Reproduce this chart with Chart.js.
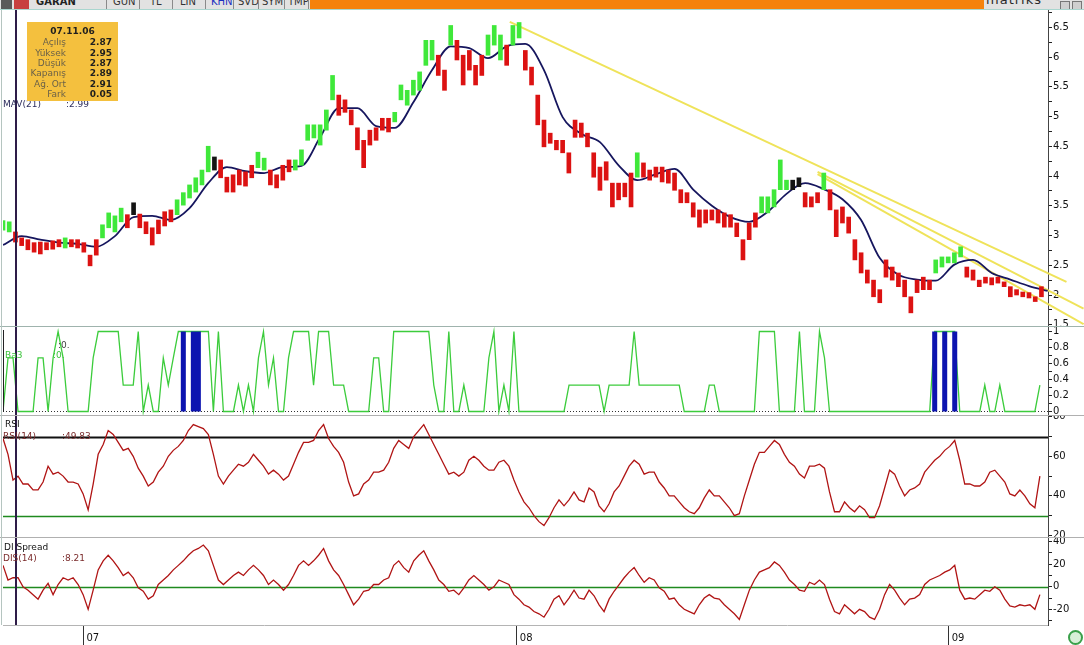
<!DOCTYPE html>
<html>
<head>
<meta charset="utf-8">
<title>GARAN</title>
<script src="https://cdn.jsdelivr.net/npm/chart.js@4.4.1/dist/chart.umd.min.js"></script>
<style>
  body { margin:0; width:1084px; height:645px; overflow:hidden; background:#fff; position:relative; font-family:"DejaVu Sans", Verdana, sans-serif; }
  .pane { position:absolute; left:0; }
  .lbl { position:absolute; font-size:9px; line-height:10px; white-space:nowrap; }
  .sep { position:absolute; left:0; width:1084px; height:1px; }
  #tb { position:absolute; left:0; top:0; width:1084px; height:9px; overflow:hidden; background:#e2e2e2; }
  #tb span { position:absolute; top:-4px; font-size:10px; line-height:12px; color:#333; }
  #tb .vs { position:absolute; top:0; width:1px; height:9px; background:#8a8a8a; }
  #orange { position:absolute; left:310px; top:0; width:674px; height:9px; background:#f5820c; }
  #tip { position:absolute; left:27px; top:22px; width:91px; height:79px; background:#f4c03e; }
  #tip span { position:absolute; font-size:9px; line-height:10px; white-space:nowrap; }
  #tip .k { right:52px; color:#6b6148; }
  #tip .v { right:6px; color:#1e1e1e; font-weight:bold; }
</style>
</head>
<body>

<div id="tb">
  <div style="position:absolute;left:1px;top:0;width:11px;height:9px;background:#5a5a5a"></div>
  <div style="position:absolute;left:14px;top:0;width:15px;height:9px;background:#c84040"></div>
  <span style="left:36px;font-weight:bold;color:#222">GARAN</span>
  <div class="vs" style="left:106px"></div>
  <span style="left:113px">GUN</span>
  <div class="vs" style="left:139px"></div>
  <span style="left:150px">TL</span>
  <div class="vs" style="left:172px"></div>
  <span style="left:180px">LIN</span>
  <div class="vs" style="left:205px"></div>
  <span style="left:211px;color:#1c2fc0">KHN</span>
  <div class="vs" style="left:233px"></div>
  <span style="left:238px">SVD</span>
  <div class="vs" style="left:258px"></div>
  <span style="left:262px">SYM</span>
  <div class="vs" style="left:284px"></div>
  <span style="left:288px">TMP</span>
  <div class="vs" style="left:308px"></div>
  <div id="orange"></div>
  <span style="left:986px;font-size:13px;top:-6px;color:#2a2a2a;letter-spacing:1px">matriks</span>
  <div style="position:absolute;left:1060px;top:1px;width:8px;height:7px;background:#cfcfcf;border:1px solid #777"></div>
  <div style="position:absolute;left:1072px;top:1px;width:8px;height:7px;background:#cfcfcf;border:1px solid #777"></div>
</div>
<div class="sep" style="top:9px;background:#a9d6cf"></div>

<div class="pane" style="top:10px"><canvas id="cPrice" width="1084" height="316"></canvas></div>
<div class="pane" style="top:326px"><canvas id="cBa3" width="1084" height="89"></canvas></div>
<div class="pane" style="top:415px"><canvas id="cRsi" width="1084" height="122"></canvas></div>
<div class="pane" style="top:537px"><canvas id="cDis" width="1084" height="108"></canvas></div>

<div class="sep" style="top:326px;background:#9fb3ad"></div>
<div class="sep" style="top:415px;background:#b0b0b0"></div>
<div class="sep" style="top:537px;background:#b0b0b0"></div>
<div style="position:absolute;left:1px;top:10px;width:1px;height:615px;background:#b5c5c0"></div>
<div style="position:absolute;left:3px;top:330px;width:1px;height:82px;background:#222"></div>

<div class="lbl" style="left:3px;top:99px;color:#2c2c5c">MAV(21)</div>
<div class="lbl" style="left:66px;top:99px;color:#2c2c5c">:2.99</div>

<div id="tip">
  <span style="left:0;width:91px;text-align:center;top:4px;font-weight:bold;color:#1e1e1e">07.11.06</span>
  <span class="k" style="top:15px">Açılış</span><span class="v" style="top:15px">2.87</span>
  <span class="k" style="top:25.5px">Yüksek</span><span class="v" style="top:25.5px">2.95</span>
  <span class="k" style="top:36px">Düşük</span><span class="v" style="top:36px">2.87</span>
  <span class="k" style="top:46px">Kapanış</span><span class="v" style="top:46px">2.89</span>
  <span class="k" style="top:56.5px">Ağ. Ort</span><span class="v" style="top:56.5px">2.91</span>
  <span class="k" style="top:67px">Fark</span><span class="v" style="top:67px">0.05</span>
</div>

<div class="lbl" style="left:5px;top:350px;color:#3cc43c">Ba3</div>
<div class="lbl" style="left:58px;top:340px;color:#444">:0.</div>
<div class="lbl" style="left:53px;top:350px;color:#3cc43c">:0.</div>

<div class="lbl" style="left:5px;top:419px;color:#111">RSI</div>
<div class="lbl" style="left:3px;top:431px;color:#7a2a2a">RSI(14)</div>
<div class="lbl" style="left:62px;top:431px;color:#7a2a2a">:49.83</div>

<div class="lbl" style="left:4px;top:542px;color:#111">DI Spread</div>
<div class="lbl" style="left:3px;top:553px;color:#7a2a2a">DIS(14)</div>
<div class="lbl" style="left:62px;top:553px;color:#7a2a2a">:8.21</div>

<div style="position:absolute;left:1068px;top:630px;width:11px;height:11px;border-radius:50%;border:2px solid #3aa04a;background:#d8f0d8"></div>

<script>
// time axis in trading sessions (250 per year)
const YEAR_LABELS = ['07', '08', '09'];
const YEAR_T = [46.6, 297.5, 547.5];
const CURSOR_T = 7.5;

// price bars, one every 3.6 sessions
const PRICE_DT = 3.6;
const PRICE_LO = [3.09,3.06,2.89,2.83,2.76,2.72,2.69,2.76,2.77,2.81,
  2.79,2.81,2.79,2.72,2.49,2.67,2.96,3.13,3.06,3.23,
  3.13,3.35,3.13,3.03,2.84,3.03,3.16,3.23,3.35,3.51,
  3.63,3.73,3.85,4.07,4.10,3.97,3.73,3.73,3.85,3.83,
  3.97,4.14,4.10,3.85,3.80,3.93,4.07,4.10,4.18,4.60,
  4.64,4.52,4.77,5.28,5.02,5.07,4.86,4.44,4.14,4.52,
  4.60,4.77,4.74,4.91,5.28,5.19,5.36,5.44,5.86,5.95,
  5.69,5.44,6.20,5.95,5.53,5.78,5.53,5.69,6.03,6.20,
  5.95,5.86,6.20,6.32,5.78,5.53,4.86,4.49,4.55,4.44,
  4.39,4.05,4.65,4.65,4.49,3.98,3.76,3.93,3.48,3.60,
  3.65,3.48,3.98,3.98,3.93,3.98,3.90,3.88,3.76,3.55,
  3.55,3.31,3.14,3.21,3.26,3.21,3.14,3.14,2.98,2.59,
  2.93,3.14,3.38,3.38,3.48,3.77,3.77,3.77,3.82,3.48,
  3.48,3.55,3.77,3.43,2.98,3.21,3.04,2.59,2.37,2.20,
  1.97,1.87,2.30,2.25,2.14,1.97,1.70,2.04,2.09,2.09,
  2.37,2.47,2.54,2.54,2.64,2.30,2.25,2.14,2.20,2.17,
  2.20,2.14,1.97,2.00,1.97,1.95,1.89,1.97];
const PRICE_HI = [3.25,3.23,3.06,2.96,2.93,2.88,2.89,2.88,2.91,2.93,
  2.96,2.93,2.93,2.88,2.67,2.93,3.18,3.38,3.33,3.46,
  3.35,3.55,3.36,3.23,3.13,3.26,3.40,3.43,3.60,3.72,
  3.85,3.97,4.10,4.50,4.32,4.27,3.98,4.02,4.10,4.07,
  4.18,4.40,4.30,4.10,4.02,4.18,4.27,4.27,4.44,4.86,
  4.86,4.86,5.11,5.69,5.36,5.28,5.11,4.81,4.60,4.77,
  4.81,4.97,4.97,5.07,5.53,5.44,5.61,5.75,6.28,6.28,
  6.03,5.78,6.53,6.28,6.03,6.11,5.86,6.03,6.37,6.53,
  6.37,6.20,6.53,6.58,6.11,5.83,5.36,4.94,4.72,4.60,
  4.60,4.39,4.94,4.89,4.72,4.39,4.15,4.24,3.88,3.88,
  3.88,4.05,4.39,4.22,4.10,4.15,4.15,4.10,4.05,3.77,
  3.72,3.55,3.43,3.43,3.43,3.43,3.38,3.35,3.21,2.93,
  3.21,3.38,3.65,3.65,3.77,4.27,3.93,3.93,3.97,3.72,
  3.65,3.72,4.05,3.77,3.43,3.48,3.31,2.93,2.71,2.42,
  2.25,2.09,2.59,2.47,2.37,2.25,1.97,2.25,2.30,2.25,
  2.59,2.64,2.64,2.71,2.81,2.47,2.42,2.25,2.30,2.29,
  2.30,2.22,2.14,2.09,2.05,2.04,1.97,2.14];
// G = up (green), R = down (red), K = neutral (black)
const PRICE_CLR = 'GGRRRRRRRR' + 'GRRRRRGGGG' + 'RKRRRRRRGG' + 'GGGGKRRRRR' +
  'RGGRRRRGGG' + 'GGGGRRRRRR' + 'RRRGGGGGGG' + 'RRGRRRRRGG' + 'GRGGRRRRRR' +
  'RRRRRRRRRR' + 'RRGRRRRRRR' + 'RRRRRRRRRR' + 'RRGGGGGKKR' + 'RRGRRRRRRR' +
  'RRRRRRRRRR' + 'GGGGGRRRRR' + 'RRRRRRRR';

// 21-period moving average, read every 10.8 sessions
const MAV_DT = 10.8;
const MAV = [2.84,2.99,2.93,2.88,2.86,2.81,2.99,3.31,3.33,3.26,
  3.46,3.88,4.15,4.08,4.05,4.15,4.17,4.65,5.14,5.14,
  4.84,4.81,5.24,5.78,6.18,6.15,5.98,6.18,6.22,5.78,
  4.99,4.71,4.57,4.18,3.93,4.03,4.12,3.77,3.50,3.31,
  3.23,3.40,3.70,3.88,3.78,3.61,3.26,2.62,2.34,2.26,
  2.24,2.51,2.59,2.37,2.26,2.15,2.07];

// drawn trend lines: [start, end] in sessions and price
const TREND_T = [[293.4, 615.7], [471.6, 625.6], [471.6, 625.6]];
const TREND_P = [[6.59, 2.22], [4.07, 1.77], [4.03, 1.51]];

// oscillators, read every 2.9 sessions
const OSC_DT = 2.9;
const BA3 = [0,0.67,0.67,0,0,0,0,0.67,0.67,0,
  0.67,1,0.67,0,0,0,0,0,0.67,1,
  1,1,1,1,0.33,0.33,0.33,1,0,0.33,
  0,0,0.67,0.33,0.67,1,1,1,1,1,
  1,1,0,1,0,0,0,0.33,0,0.33,
  0,0.67,1,0.33,0.67,0,0,0.67,1,1,
  1,1,0.33,1,1,1,0.33,0.33,0.33,0,
  0,0,0,0,0.67,0.67,0,0,1,1,
  1,1,1,1,1,1,0.33,0,0,1,
  0,0,0.33,0,0,0,0,0.67,1,0,
  0.33,0,1,0,0,0,0,0,0,0,
  0,0,0,0.33,0.33,0.33,0.33,0.33,0.33,0.33,
  0,0.33,0.33,0.33,0.33,0.33,1,0.33,0.33,0.33,
  0.33,0.33,0.33,0.33,0.33,0.33,0,0,0,0,
  0,0.33,0.33,0,0,0,0,0,0,0,
  0,1,1,1,1,0,0,0,0,1,
  0,0,0,1,0.67,0,0,0,0,0,
  0,0,0,0,0,0,0,0,0,0,
  0,0,0,0,0,0,1,1,1,1,
  1,0,0,0,0,0,0.33,0,0,0.33,
  0,0,0,0,0,0,0,0.33];
const BA3_BLUE_ON = [36, 38, 39, 186, 188, 190];

const RSI = [69,61,48,50,46,46,43,43,47,55,
  51,52,50,47,47,46,41,33,46,61,
  66,73,71,67,63,64,60,54,50,45,
  47,52,55,60,63,65,68,73,76,75,
  74,71,61,50,46,50,53,56,55,57,
  61,58,55,51,53,51,48,50,56,62,
  67,67,68,73,76,69,65,62,57,47,
  40,41,46,48,52,52,53,57,64,68,
  66,64,70,73,76,71,66,61,56,51,
  52,50,52,58,60,58,55,53,53,57,
  58,55,48,42,37,34,30,27,25,29,
  34,38,35,38,42,38,37,44,42,35,
  32,36,42,45,50,55,58,56,51,52,
  52,47,44,40,40,37,34,32,31,34,
  39,43,40,40,37,34,30,31,40,48,
  56,62,62,65,68,66,61,57,55,51,
  49,55,55,56,54,42,32,32,37,34,
  32,35,33,29,29,35,44,53,51,45,
  40,43,44,46,52,55,58,60,63,65,
  68,58,46,46,45,45,47,52,53,50,
  47,41,40,43,40,36,34,50];
const RSI_LEVELS = [70, 30];

const DIS = [19,6,8,8,0,-3,-7,-11,-3,3,
  -7,2,8,6,8,2,-7,-20,-3,15,
  23,28,23,17,10,13,8,-1,-4,-11,
  -8,2,6,10,15,19,23,28,32,34,
  37,32,19,6,2,6,10,13,10,15,
  19,15,10,2,6,2,-3,2,10,19,
  23,19,23,28,34,23,15,10,2,-7,
  -16,-11,-4,-3,2,2,6,8,19,23,
  17,13,23,28,32,23,15,6,2,-4,
  -3,-7,-1,6,10,6,2,-3,0,6,
  4,2,-7,-11,-16,-18,-22,-24,-27,-20,
  -11,-8,-16,-10,-3,-10,-11,-3,-8,-16,
  -22,-11,-4,2,8,13,17,10,4,8,
  6,-1,-4,-11,-10,-16,-20,-22,-24,-16,
  -10,-7,-10,-11,-16,-20,-24,-29,-16,-3,
  6,13,15,17,22,19,13,6,2,-3,
  -4,4,2,6,2,-11,-22,-24,-16,-20,
  -24,-20,-22,-27,-29,-20,-7,2,-3,-10,
  -16,-11,-10,-7,2,6,8,10,13,15,
  19,-3,-11,-10,-11,-7,-3,-4,0,-3,
  -11,-17,-18,-16,-17,-16,-20,-7];
const DIS_LEVELS = [0];

const PRICE_TICKS = ['1.5','2','2.5','3','3.5','4','4.5','5','5.5','6','6.5'];
const BA3_TICKS = ['0','0.2','0.4','0.6','0.8','1'];
const RSI_TICKS = ['20','40','60','80'];
const DIS_TICKS = ['-20','0','20','40'];

// ---------------------------------------------------------------
const X_MAX = 605;
const FONT = { family: 'DejaVu Sans', size: 10 };
const CLR = { G: '#3fe83a', R: '#dc1212', K: '#141414' };

function series(values, dt) {
  return values.map((v, i) => ({ x: +(i * dt).toFixed(2), y: v }));
}

function tickValues(labels, lo, hi) {
  const maj = labels.map(Number);
  const half = (maj[1] - maj[0]) / 2;
  const out = [];
  for (let v = maj[0] - half; v <= maj[maj.length - 1] + half + 1e-9; v += half) {
    const r = +v.toFixed(4);
    if (r >= lo && r <= hi) out.push(r);
  }
  return out;
}

function yAxis(lo, hi, labels) {
  const names = {};
  labels.forEach(l => { names[Number(l)] = l; });
  const vals = tickValues(labels, lo, hi);
  return {
    position: 'right', min: lo, max: hi,
    afterFit: s => { s.width = 36; s.paddingTop = 0; s.paddingBottom = 0; },
    afterBuildTicks: s => { s.ticks = vals.map(v => ({ value: v })); },
    ticks: { autoSkip: false, padding: 1, color: '#111', font: FONT,
             callback: v => (names[v] !== undefined ? names[v] : '') },
    grid: { drawOnChartArea: false, tickLength: 4, tickColor: '#222' },
    border: { display: true, color: '#444' }
  };
}

function xAxis(show) {
  const ax = { type: 'linear', min: 0, max: X_MAX, offset: false, display: show };
  if (show) {
    Object.assign(ax, {
      afterFit: s => { s.height = 20; s.paddingLeft = 0; s.paddingRight = 0; },
      afterBuildTicks: s => { s.ticks = YEAR_T.map(v => ({ value: v })); },
      ticks: { autoSkip: false, align: 'start', labelOffset: 3, padding: -13, maxRotation: 0,
               color: '#111', font: FONT, callback: (v, i) => YEAR_LABELS[i] },
      grid: { drawOnChartArea: false, tickLength: 20, tickColor: '#333' },
      border: { display: true, color: '#b4b4b4' }
    });
  }
  return ax;
}

const paneDeco = {
  id: 'paneDeco',
  beforeDatasetsDraw(chart, args, opts) {
    const { ctx, chartArea: a, scales: { y } } = chart;
    (opts.levels || []).forEach(l => {
      const py = Math.round(y.getPixelForValue(l.value)) + 0.5;
      ctx.save();
      ctx.strokeStyle = l.color;
      ctx.lineWidth = l.width;
      if (l.dash) ctx.setLineDash(l.dash);
      ctx.beginPath(); ctx.moveTo(a.left, py); ctx.lineTo(a.right, py); ctx.stroke();
      ctx.restore();
    });
  },
  afterDatasetsDraw(chart) {
    const { ctx, chartArea: a, scales: { x } } = chart;
    const px = Math.round(x.getPixelForValue(CURSOR_T));
    ctx.save();
    ctx.strokeStyle = '#2e1c48';
    ctx.lineWidth = 2;
    ctx.beginPath(); ctx.moveTo(px, a.top); ctx.lineTo(px, a.bottom); ctx.stroke();
    ctx.restore();
  }
};

function baseOptions(yScale, levels, showX) {
  return {
    responsive: false, animation: false, events: [],
    layout: { padding: { left: 3, right: 0, top: 0, bottom: 0 } },
    plugins: { legend: { display: false }, tooltip: { enabled: false }, paneDeco: { levels: levels } },
    scales: { x: xAxis(showX), y: yScale }
  };
}

// price pane
const priceBars = PRICE_LO.map((lo, i) => ({ x: +(i * PRICE_DT).toFixed(2), y: [lo, PRICE_HI[i]] }));
const trendSets = TREND_T.map((ts, n) => ({
  type: 'line',
  data: ts.map((t, k) => ({ x: t, y: TREND_P[n][k] })),
  borderColor: '#efe35a', borderWidth: 2, pointRadius: 0, clip: false
}));

new Chart(document.getElementById('cPrice'), {
  type: 'bar',
  data: {
    datasets: [
      { type: 'bar', data: priceBars, barThickness: 4,
        backgroundColor: PRICE_CLR.split('').map(c => CLR[c]) },
      { type: 'line', data: series(MAV, MAV_DT), borderColor: '#16165e', borderWidth: 1.8,
        pointRadius: 0, cubicInterpolationMode: 'monotone' }
    ].concat(trendSets)
  },
  options: baseOptions(yAxis(1.479, 6.79, PRICE_TICKS), [], false),
  plugins: [paneDeco]
});

// Ba3 pane
const blue = BA3.map((v, k) => ({ x: +(k * OSC_DT).toFixed(2), y: BA3_BLUE_ON.includes(k) ? 1 : 0 }));
new Chart(document.getElementById('cBa3'), {
  type: 'line',
  data: {
    datasets: [
      { data: blue, stepped: 'middle', fill: 'origin', backgroundColor: '#0c14b0',
        borderWidth: 0, pointRadius: 0 },
      { data: series(BA3, OSC_DT), borderColor: '#3ccc3c', borderWidth: 1.3, pointRadius: 0 }
    ]
  },
  options: baseOptions(yAxis(-0.044, 1.069, BA3_TICKS),
    [{ value: 0, color: '#333', width: 1, dash: [1, 2] }], false),
  plugins: [paneDeco]
});

// RSI pane
new Chart(document.getElementById('cRsi'), {
  type: 'line',
  data: { datasets: [
    { data: series(RSI, OSC_DT), borderColor: '#b01414', borderWidth: 1.3, pointRadius: 0 }
  ] },
  options: baseOptions(yAxis(19.24, 80.86, RSI_TICKS),
    [{ value: RSI_LEVELS[0], color: '#111', width: 2 },
     { value: RSI_LEVELS[1], color: '#1f8a1f', width: 1.6 }], false),
  plugins: [paneDeco]
});

// DI spread pane with the time axis
new Chart(document.getElementById('cDis'), {
  type: 'line',
  data: { datasets: [
    { data: series(DIS, OSC_DT), borderColor: '#b01414', borderWidth: 1.3, pointRadius: 0 }
  ] },
  options: baseOptions(yAxis(-33.93, 44.17, DIS_TICKS),
    DIS_LEVELS.map(v => ({ value: v, color: '#1f8a1f', width: 1.6 })), true),
  plugins: [paneDeco]
});
</script>
</body>
</html>
